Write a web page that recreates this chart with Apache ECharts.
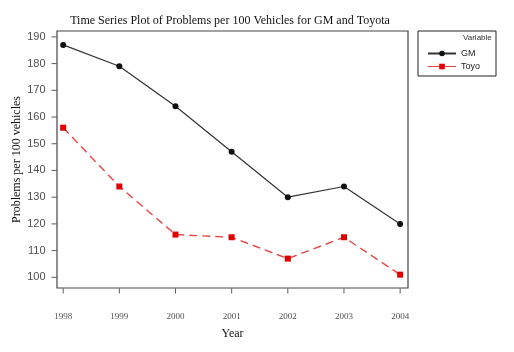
<!DOCTYPE html>
<html>
<head>
<meta charset="utf-8">
<script src="https://cdn.jsdelivr.net/npm/echarts@6/dist/echarts.min.js"></script>
<style>
  html, body { margin: 0; padding: 0; background: #fff; }
  #main { width: 514px; height: 352px; }
</style>
</head>
<body>
<div id="main"></div>
<script>
var years = [1998, 1999, 2000, 2001, 2002, 2003, 2004];
var gm = [187, 179, 164, 147, 130, 134, 120];
var toyo = [156, 134, 116, 115, 107, 115, 101];
var yTicks = [100, 110, 120, 130, 140, 150, 160, 170, 180, 190];

function pairs(xs, ys) {
  return xs.map(function (x, i) { return [x, ys[i]]; });
}

var chart = echarts.init(document.getElementById('main'));
chart.setOption({
  animation: false,
  title: {
    text: 'Time Series Plot of Problems per 100 Vehicles for GM and Toyota',
    left: 225,
    top: 10,
    textAlign: 'center',
    textStyle: { fontFamily: 'Liberation Serif', fontSize: 12, fontWeight: 'normal', color: '#111' }
  },
  grid: { left: 57, right: 106, top: 31, bottom: 64, show: true, borderColor: '#444', borderWidth: 1.2 },
  legend: {
    orient: 'vertical',
    left: 422,
    top: 44,
    itemWidth: 28,
    itemHeight: 7,
    itemGap: 4,
    textStyle: { fontFamily: 'Liberation Sans', fontSize: 9, color: '#222' },
    data: [
      { name: 'GM' },
      { name: 'Toyo', lineStyle: { type: 'solid', width: 1 } }
    ]
  },
  graphic: [
    { type: 'rect', shape: { x: 418, y: 31, width: 78, height: 45 }, style: { fill: 'none', stroke: '#222', lineWidth: 1 } },
    { type: 'text', left: 463, top: 34, style: { text: 'Variable', font: '8px Liberation Sans', fill: '#333' } }
  ],
  xAxis: {
    type: 'value',
    min: 1997.89,
    max: 2004.14,
    name: 'Year',
    nameLocation: 'middle',
    nameGap: 40,
    nameTextStyle: { fontFamily: 'Liberation Serif', fontSize: 12, color: '#111' },
    axisLine: { show: false },
    axisTick: { show: false },
    axisLabel: { show: false },
    splitLine: { show: false }
  },
  yAxis: {
    type: 'value',
    min: 96,
    max: 192.2,
    name: 'Problems per 100 vehicles',
    nameLocation: 'middle',
    nameGap: 34,
    nameTextStyle: { fontFamily: 'Liberation Serif', fontSize: 12, color: '#111' },
    axisLine: { show: false },
    axisTick: { show: false },
    axisLabel: { show: false },
    splitLine: { show: false }
  },
  series: [
    {
      name: 'GM',
      type: 'line',
      data: pairs(years, gm),
      symbol: 'circle',
      symbolSize: 6,
      itemStyle: { color: '#111' },
      lineStyle: { color: '#333', width: 1.2 },
      z: 3
    },
    {
      name: 'Toyo',
      type: 'line',
      data: pairs(years, toyo),
      symbol: 'rect',
      symbolSize: 6,
      itemStyle: { color: '#e00000' },
      lineStyle: { color: '#e84545', width: 1.4, type: [8, 5] },
      z: 2
    },
    // y ticks and labels
    {
      type: 'scatter',
      data: yTicks.map(function (v) { return [1997.89, v]; }),
      symbol: 'rect',
      symbolSize: [5, 1],
      symbolOffset: [-3, 0],
      itemStyle: { color: '#333' },
      label: { show: true, position: 'left', distance: 6, formatter: function (p) { return p.value[1]; }, fontFamily: 'Liberation Sans', fontSize: 11, color: '#222' },
      silent: true,
      z: 5
    },
    // x ticks and labels
    {
      type: 'scatter',
      data: years.map(function (y) { return [y, 96]; }),
      symbol: 'rect',
      symbolSize: [1, 5],
      symbolOffset: [0, 3],
      itemStyle: { color: '#333' },
      label: { show: true, position: 'bottom', distance: 19, formatter: function (p) { return p.value[0]; }, fontFamily: 'Liberation Serif', fontSize: 9, color: '#222' },
      silent: true,
      z: 5
    }
  ]
});
</script>
</body>
</html>
